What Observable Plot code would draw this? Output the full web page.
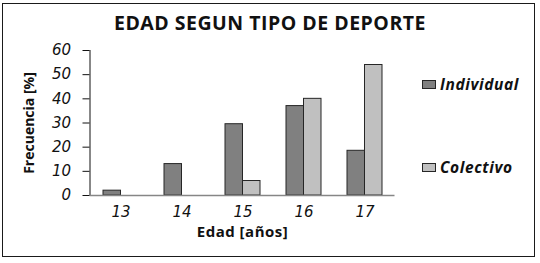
<!DOCTYPE html>
<html>
<head>
<meta charset="utf-8">
<script src="https://cdn.jsdelivr.net/npm/d3@7"></script>
<script src="https://cdn.jsdelivr.net/npm/@observablehq/plot@0.6"></script>
<style>
  html, body { margin: 0; padding: 0; background: #fff; }
  #wrap { position: relative; width: 540px; height: 263px; overflow: hidden; }
  #border { position: absolute; left: 2px; top: 3px; width: 531px; height: 252px; border: 1.5px solid #1a1a1a; box-sizing: content-box; }
  #title { position: absolute; left: 0; width: 540px; top: 9px; text-align: center; font: bold 19.5px "Open Sans", sans-serif; color: #111; letter-spacing: 0.5px; }
  .leg { position: absolute; left: 422px; font: italic bold 15.5px "Open Sans", sans-serif; color: #111; display: flex; align-items: center; letter-spacing: 0.6px; }
  .leg span.sw { display: inline-block; width: 12px; height: 7px; border: 1px solid #262626; margin-right: 4px; }
  #chart { position: absolute; left: 0; top: 0; }
  #chart svg g[aria-label="y-axis label"] text { font: bold 14px "Open Sans", sans-serif; fill: #111; }
  #chart svg g[aria-label="x-axis label"] text { font: bold 15px "Open Sans", sans-serif; fill: #111; letter-spacing: 0.5px; }
</style>
</head>
<body>
<div id="wrap">
  <div id="chart"></div>
  <div id="border"></div>
  <div id="title">EDAD SEGUN TIPO DE DEPORTE</div>
  <div class="leg" id="leg1" style="top:73px"><span class="sw" style="background:#808080"></span>Individual</div>
  <div class="leg" id="leg2" style="top:156px"><span class="sw" style="background:#c0c0c0"></span>Colectivo</div>
</div>
<script>
const edades = ["13", "14", "15", "16", "17"];
const individual = [2, 13, 29.5, 37, 18.5];
const colectivo = [0, 0, 6, 40, 54];
const yTicks = [0, 10, 20, 30, 40, 50, 60];

const rows = edades.map((e, i) => ({edad: e, individual: individual[i], colectivo: colectivo[i]}));

const chart = Plot.plot({
  width: 540,
  height: 263,
  marginTop: 50,
  marginBottom: 68,
  marginLeft: 89.5,
  marginRight: 145.5,
  style: {fontFamily: "DejaVu Sans", fontStyle: "italic", fontSize: "15px", color: "#111", background: "transparent", overflow: "visible"},
  x: {domain: edades, paddingInner: 0.43, paddingOuter: 0.215, tickSize: 0, tickPadding: 11, label: "Edad [años]", labelAnchor: "center", labelOffset: 41, labelArrow: "none"},
  y: {domain: [0, 60], ticks: yTicks, tickFormat: d => String(d), tickSize: 7, tickPadding: 12, line: true, label: "Frecuencia [%]", labelAnchor: "center", labelOffset: 66, labelArrow: "none"},
  marks: [
    Plot.barY(rows, {x: "edad", y: "individual", fill: "#808080", stroke: "#262626", strokeWidth: 1, insetRight: 17.5}),
    Plot.barY(rows.filter(d => d.colectivo > 0), {x: "edad", y: "colectivo", fill: "#c0c0c0", stroke: "#262626", strokeWidth: 1, insetLeft: 17.5}),
    Plot.ruleY([0], {stroke: "#868686", strokeWidth: 1.5})
  ]
});
// strip any arrow glyphs that older versions append to axis labels
chart.querySelectorAll('g[aria-label$="-axis label"] text').forEach(t => {
  t.textContent = t.textContent.replace(/\s*[↑↓→←]\s*/g, "");
});
document.getElementById("chart").appendChild(chart);
</script>
</body>
</html>
